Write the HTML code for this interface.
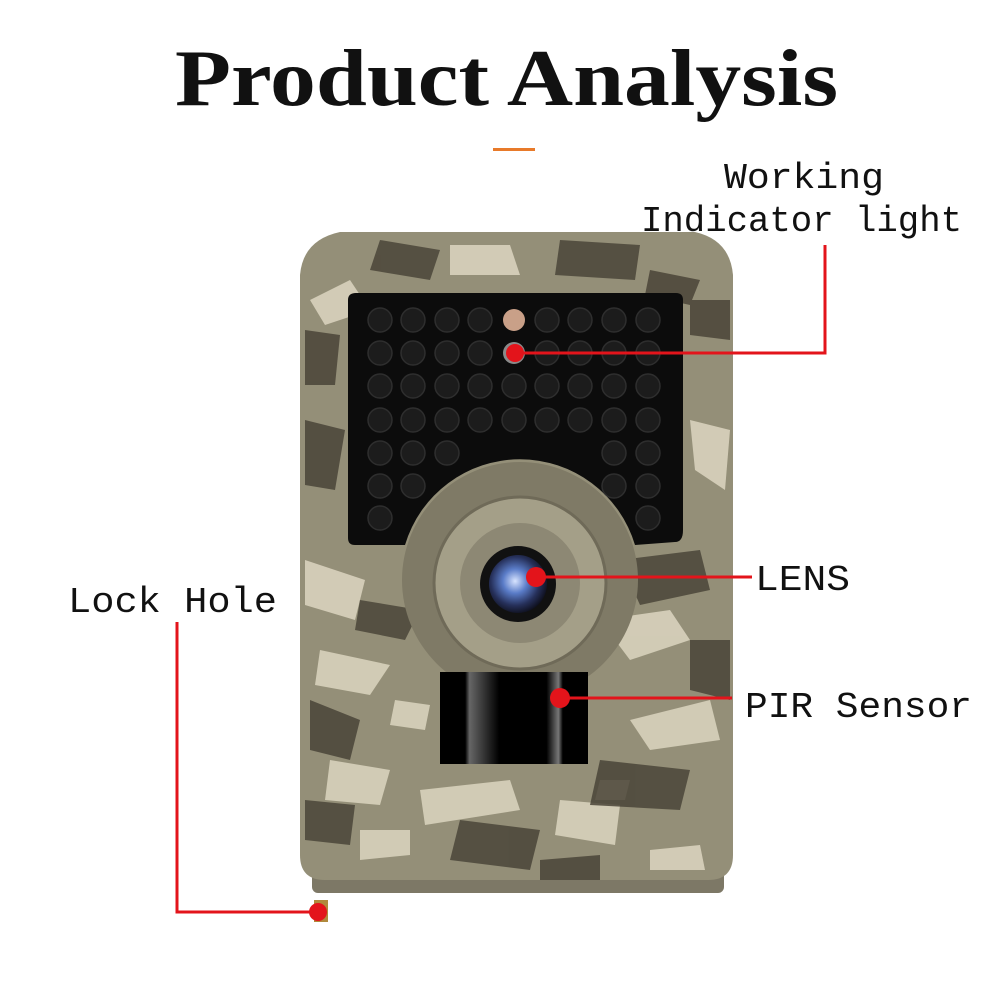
<!DOCTYPE html>
<html><head><meta charset="utf-8"><style>
html,body{margin:0;padding:0;background:#fff;}
svg{display:block}
</style></head><body>
<svg width="1000" height="1000" viewBox="0 0 1000 1000" xmlns="http://www.w3.org/2000/svg">
<defs>
<clipPath id="body"><path d="M340,232 L695,232 Q730,240 733,275 L733,855 Q733,880 708,880 L325,880 Q300,880 300,855 L300,275 Q303,240 340,232 Z"/></clipPath>
<radialGradient id="lensg" cx="0.45" cy="0.45" r="0.6"><stop offset="0" stop-color="#d8e4ff"/><stop offset="0.35" stop-color="#5a7cc8"/><stop offset="0.7" stop-color="#26305a"/><stop offset="1" stop-color="#0a0a12"/></radialGradient>
<linearGradient id="pir" x1="0" x2="1"><stop offset="0" stop-color="#000"/><stop offset="0.17" stop-color="#000"/><stop offset="0.2" stop-color="#666"/><stop offset="0.4" stop-color="#000"/><stop offset="0.72" stop-color="#000"/><stop offset="0.8" stop-color="#777"/><stop offset="0.83" stop-color="#000"/><stop offset="1" stop-color="#000"/></linearGradient>
</defs>
<text x="175" y="105" textLength="663" lengthAdjust="spacingAndGlyphs" font-family="Liberation Serif, serif" font-weight="bold" font-size="80" fill="#111">Product Analysis</text>
<rect x="493" y="148" width="42" height="3" fill="#e87a2a"/>
<rect x="312" y="865" width="412" height="28" rx="6" fill="#7d7866"/>
<g clip-path="url(#body)">
<rect x="290" y="225" width="450" height="665" fill="#948f78"/>
<g fill="#d8d2bc" opacity="0.9">
<path d="M310,300 l40,-20 l20,30 l-45,15z"/><path d="M305,560 l60,20 l-10,40 l-50,-15z"/><path d="M320,650 l70,15 l-20,30 l-55,-10z"/>
<path d="M600,620 l70,-10 l20,30 l-60,20z"/><path d="M630,720 l80,-20 l10,40 l-70,10z"/><path d="M330,760 l60,10 l-10,35 l-55,-5z"/>
<path d="M420,790 l90,-10 l10,30 l-95,15z"/><path d="M560,800 l60,5 l-5,40 l-60,-10z"/><path d="M690,420 l40,10 l-5,60 l-30,-20z"/>
<path d="M360,830 l50,0 l0,25 l-50,5z"/><path d="M650,850 l50,-5 l5,25 l-55,0z"/><path d="M450,245 l60,0 l10,30 l-70,0z"/>
<path d="M395,700 l35,5 l-5,25 l-35,-5z"/><path d="M600,780 l30,0 l-5,20 l-30,0z"/>
</g>
<g fill="#4a4538" opacity="0.85">
<path d="M380,240 l60,10 l-10,30 l-60,-10z"/><path d="M560,240 l80,5 l-5,35 l-80,-5z"/><path d="M305,420 l40,10 l-10,60 l-30,-5z"/>
<path d="M620,560 l80,-10 l10,40 l-70,15z"/><path d="M310,700 l50,20 l-10,40 l-40,-10z"/><path d="M460,820 l80,10 l-10,40 l-80,-10z"/>
<path d="M600,760 l90,10 l-10,40 l-90,-5z"/><path d="M690,640 l40,0 l0,60 l-40,-10z"/><path d="M360,600 l60,10 l-15,30 l-50,-10z"/>
<path d="M650,270 l50,10 l-10,25 l-45,-10z"/><path d="M690,300 l40,0 l0,40 l-40,-5z"/><path d="M305,330 l35,5 l-5,50 l-30,0z"/>
<path d="M305,800 l50,5 l-5,40 l-45,-5z"/><path d="M540,860 l60,-5 l0,25 l-60,0z"/>
</g>
</g>
<path d="M348,300 Q348,293 356,293 L676,293 Q683,293 683,300 L683,530 Q683,542 675,542 L635,545 A120,120 0 0 0 405,545 L355,545 Q348,545 348,538 Z" fill="#0c0c0c"/>
<g fill="#1c1c1c" stroke="#2e2e2e" stroke-width="1.5">
<circle cx="380" cy="320" r="12"/><circle cx="413" cy="320" r="12"/><circle cx="447" cy="320" r="12"/><circle cx="480" cy="320" r="12"/><circle cx="547" cy="320" r="12"/><circle cx="580" cy="320" r="12"/><circle cx="614" cy="320" r="12"/><circle cx="648" cy="320" r="12"/>
<circle cx="380" cy="353" r="12"/><circle cx="413" cy="353" r="12"/><circle cx="447" cy="353" r="12"/><circle cx="480" cy="353" r="12"/><circle cx="547" cy="353" r="12"/><circle cx="580" cy="353" r="12"/><circle cx="614" cy="353" r="12"/><circle cx="648" cy="353" r="12"/>
<circle cx="380" cy="386" r="12"/><circle cx="413" cy="386" r="12"/><circle cx="447" cy="386" r="12"/><circle cx="480" cy="386" r="12"/><circle cx="514" cy="386" r="12"/><circle cx="547" cy="386" r="12"/><circle cx="580" cy="386" r="12"/><circle cx="614" cy="386" r="12"/><circle cx="648" cy="386" r="12"/>
<circle cx="380" cy="420" r="12"/><circle cx="413" cy="420" r="12"/><circle cx="447" cy="420" r="12"/><circle cx="480" cy="420" r="12"/><circle cx="514" cy="420" r="12"/><circle cx="547" cy="420" r="12"/><circle cx="580" cy="420" r="12"/><circle cx="614" cy="420" r="12"/><circle cx="648" cy="420" r="12"/>
<circle cx="380" cy="453" r="12"/><circle cx="413" cy="453" r="12"/><circle cx="447" cy="453" r="12"/><circle cx="614" cy="453" r="12"/><circle cx="648" cy="453" r="12"/>
<circle cx="380" cy="486" r="12"/><circle cx="413" cy="486" r="12"/><circle cx="614" cy="486" r="12"/><circle cx="648" cy="486" r="12"/>
<circle cx="380" cy="518" r="12"/><circle cx="648" cy="518" r="12"/>
</g>
<circle cx="514" cy="320" r="11" fill="#c9a088"/>
<circle cx="514" cy="353" r="11" fill="#8a8a8a"/>
<circle cx="520" cy="580" r="118" fill="#7f7a66"/>
<circle cx="520" cy="583" r="86" fill="#a49f88" stroke="#6f6a58" stroke-width="3"/>
<circle cx="520" cy="583" r="60" fill="#8d8874"/>
<circle cx="518" cy="584" r="38" fill="#111"/>
<circle cx="518" cy="584" r="29" fill="url(#lensg)"/>
<rect x="440" y="672" width="148" height="92" fill="url(#pir)"/>
<rect x="314" y="900" width="14" height="22" fill="#b08a3c"/>
<g stroke="#e3141b" stroke-width="3" fill="none">
<polyline points="825,245 825,353 515,353"/>
<line x1="535" y1="577" x2="752" y2="577"/>
<line x1="560" y1="698" x2="732" y2="698"/>
<polyline points="177,622 177,912 318,912"/>
</g>
<g fill="#e3141b">
<circle cx="515" cy="353" r="9"/><circle cx="536" cy="577" r="10"/><circle cx="560" cy="698" r="10"/><circle cx="318" cy="912" r="9"/>
</g>
<g font-family="Liberation Mono, monospace" font-size="36" fill="#111" lengthAdjust="spacingAndGlyphs">
<text x="724" y="188" textLength="160" lengthAdjust="spacingAndGlyphs">Working</text>
<text x="641" y="231" textLength="321" lengthAdjust="spacingAndGlyphs">Indicator light</text>
<text x="755" y="590" textLength="95" lengthAdjust="spacingAndGlyphs">LENS</text>
<text x="745" y="717" textLength="227" lengthAdjust="spacingAndGlyphs">PIR Sensor</text>
<text x="68" y="612" textLength="209" lengthAdjust="spacingAndGlyphs">Lock Hole</text>
</g>
</svg>
</body></html>
